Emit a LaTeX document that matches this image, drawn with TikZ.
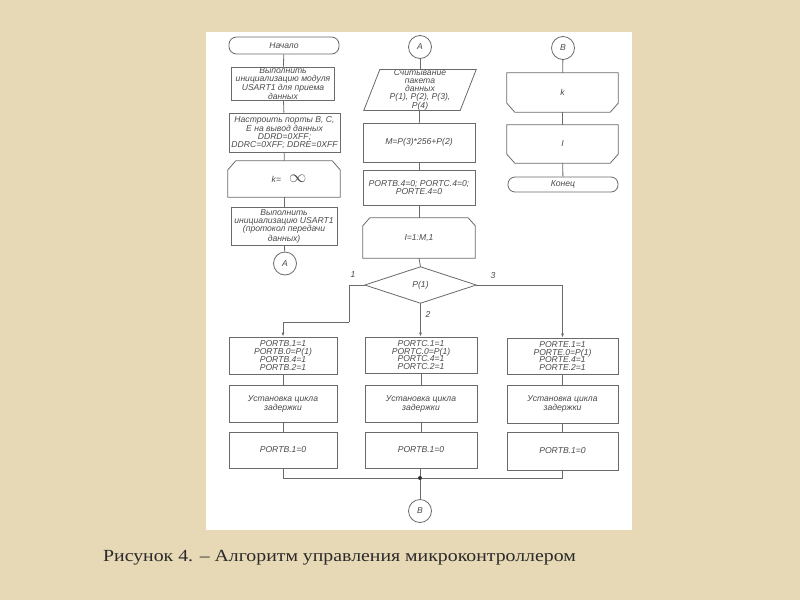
\documentclass[tikz,border=0pt]{standalone}
\usepackage{fontspec}
\setmainfont{Liberation Serif}
\newfontfamily\diagfont{Liberation Sans}
\usetikzlibrary{arrows.meta,calc}
\definecolor{bgc}{HTML}{E8D9B6}
\definecolor{linec}{HTML}{6A6A6A}
\definecolor{txtc}{HTML}{4A4A4A}
\definecolor{capc}{HTML}{2A2A2A}
\tikzset{
  diagtext/.style={font=\diagfont\itshape\fontsize{8.6}{7.9}\selectfont, text=txtc, align=center},
  conn/.style={draw=linec, line width=0.8pt},
  proc/.style={diagtext, draw=linec, line width=0.8pt, fill=white, rectangle, inner sep=0pt},
  term/.style={proc, rounded corners=7.5pt},
  holder/.style={diagtext, rectangle, inner sep=0pt},
  conncirc/.style={diagtext, draw=linec, line width=0.8pt, fill=white, circle, inner sep=0pt, minimum size=23pt},
  arr/.style={conn, -{Latex[length=4pt,width=3pt]}},
  lbl/.style={diagtext, inner sep=0pt}
}
\begin{document}
\begin{tikzpicture}[x=1pt,y=-1pt]
\useasboundingbox (0,0) rectangle (800,600);
\fill[bgc] (0,0) rectangle (800,600);
\fill[white] (206,32) rectangle (632,530);

% ---------- column 1 ----------
\node[term, minimum width=110pt, minimum height=17pt] (start) at (284,45.5) {Начало};
\node[proc, minimum width=103pt, minimum height=33pt] (init1) at (283,83.5) {Выполнить\\инициализацию модуля\\USART1 для приема\\данных};
\node[proc, minimum width=111pt, minimum height=39pt] (ports) at (284.5,132.5) {Настроить порты B, C,\\E на вывод данных\\DDRD=0XFF;\\DDRC=0XFF; DDRE=0XFF};
\node[holder, minimum width=112pt, minimum height=36pt] (loopk) at (284,179) {\hspace{10pt}k=\hspace{8pt}{\fontsize{17}{17}\selectfont$\infty$}};
\draw[conn] ([yshift=-9pt]loopk.north west) -- ([xshift=8pt]loopk.north west) -- ([xshift=-8pt]loopk.north east) -- ([yshift=-9pt]loopk.north east) -- (loopk.south east) -- (loopk.south west) -- cycle;
\node[proc, minimum width=106pt, minimum height=38pt] (init2) at (284,226) {Выполнить\\инициализацию USART1\\(протокол передачи\\данных)};
\node[conncirc] (ca1) at (285,263.5) {A};

\draw[conn] (start) -- (init1);
\draw[conn] (init1) -- (ports);
\draw[conn] (ports) -- (loopk);
\draw[conn] (loopk) -- (init2);
\draw[conn] (init2) -- (ca1);

% ---------- column 2 ----------
\node[conncirc] (ca2) at (420,47) {A};
\node[holder, minimum width=112pt, minimum height=40pt] (read) at (420,90) {Считывание\\пакета\\данных\\P(1), P(2), P(3),\\P(4)};
\draw[conn] ([xshift=16pt]read.north west) -- (read.north east) -- ([xshift=-16pt]read.south east) -- (read.south west) -- cycle;
\node[proc, minimum width=112pt, minimum height=39pt] (mcalc) at (419,142.5) {M=P(3)*256+P(2)};
\node[proc, minimum width=112pt, minimum height=35pt] (p4) at (419,187.5) {PORTB.4=0; PORTC.4=0;\\PORTE.4=0};
\node[holder, minimum width=112pt, minimum height=40pt] (loopi) at (419,238) {I=1:M,1};
\draw[conn] ([yshift=-8pt]loopi.north west) -- ([xshift=7pt]loopi.north west) -- ([xshift=-7pt]loopi.north east) -- ([yshift=-8pt]loopi.north east) -- (loopi.south east) -- (loopi.south west) -- cycle;
\node[holder, minimum width=111pt, minimum height=36pt] (dec) at (420.5,285) {P(1)};
\draw[conn] (dec.north) -- (dec.east) -- (dec.south) -- (dec.west) -- cycle;

\draw[conn] (ca2) -- (read);
\draw[conn] (read) -- (mcalc);
\draw[conn] (mcalc) -- (p4);
\draw[conn] (p4) -- (loopi);
\draw[conn] (loopi.south) -- (dec.north);

% ---------- column 3 ----------
\node[conncirc] (cb1) at (563,48) {B};
\node[holder, minimum width=111pt, minimum height=39pt] (endk) at (562.5,92.5) {k};
\draw[conn] (endk.north west) -- (endk.north east) -- ([yshift=9pt]endk.south east) -- ([xshift=-8pt]endk.south east) -- ([xshift=8pt]endk.south west) -- ([yshift=9pt]endk.south west) -- cycle;
\node[holder, minimum width=111pt, minimum height=38pt] (endi) at (562.5,144) {I};
\draw[conn] (endi.north west) -- (endi.north east) -- ([yshift=9pt]endi.south east) -- ([xshift=-8pt]endi.south east) -- ([xshift=8pt]endi.south west) -- ([yshift=9pt]endi.south west) -- cycle;
\node[term, minimum width=110pt, minimum height=15pt, rounded corners=7pt] (stop) at (563,184.5) {Конец};

\draw[conn] (cb1) -- (endk);
\draw[conn] (endk) -- (endi);
\draw[conn] (endi) -- (stop);

% ---------- branches ----------
\node[proc, minimum width=108pt, minimum height=37pt] (b1a) at (283,355.5) {PORTB.1=1\\PORTB.0=P(1)\\PORTB.4=1\\PORTB.2=1};
\node[proc, minimum width=108pt, minimum height=37pt] (b1b) at (283,403.5) {Установка цикла\\задержки};
\node[proc, minimum width=108pt, minimum height=36pt] (b1c) at (283,450) {PORTB.1=0};

\node[proc, minimum width=112pt, minimum height=36pt] (b2a) at (421,355) {PORTC.1=1\\PORTC.0=P(1)\\PORTC.4=1\\PORTC.2=1};
\node[proc, minimum width=112pt, minimum height=37pt] (b2b) at (421,403.5) {Установка цикла\\задержки};
\node[proc, minimum width=112pt, minimum height=36pt] (b2c) at (421,450) {PORTB.1=0};

\node[proc, minimum width=111pt, minimum height=36pt] (b3a) at (562.5,356) {PORTE.1=1\\PORTE.0=P(1)\\PORTE.4=1\\PORTE.2=1};
\node[proc, minimum width=111pt, minimum height=38pt] (b3b) at (562.5,404) {Установка цикла\\задержки};
\node[proc, minimum width=111pt, minimum height=38pt] (b3c) at (562.5,451) {PORTB.1=0};

\coordinate (lbend) at (349,322);
\draw[conn] (dec.west) -| (lbend);
\draw[arr] (lbend) -| (b1a.north);
\draw[arr] (dec.south) -- (dec.south |- b2a.north);
\draw[arr] (dec.east) -| (b3a.north);

\draw[conn] (b1a) -- (b1b);
\draw[conn] (b1b) -- (b1c);
\draw[conn] (b2a) -- (b2b);
\draw[conn] (b2b) -- (b2c);
\draw[conn] (b3a) -- (b3b);
\draw[conn] (b3b) -- (b3c);

\node[lbl] (l1) at (353,275) {1};
\node[lbl] (l2) at (428,314) {2};
\node[lbl] (l3) at (493,276) {3};

\node[conncirc] (cb2) at (420,511) {B};
\coordinate (join) at (420,478);
\draw[conn] (b1c.south) |- (join);
\draw[conn] (b3c.south) |- (join);
\draw[conn] (b2c.south -| join) -- (join);
\draw[conn] (join) -- (cb2);
\fill[black!80] (join) circle (2pt);

% ---------- caption ----------
\node[anchor=base west, inner sep=0pt, text=capc, font=\fontsize{17}{20}\selectfont] (cap) at (103,561) {\scalebox{1.165}[1]{Рисунок 4. – Алгоритм управления микроконтроллером}};
\end{tikzpicture}
\end{document}
